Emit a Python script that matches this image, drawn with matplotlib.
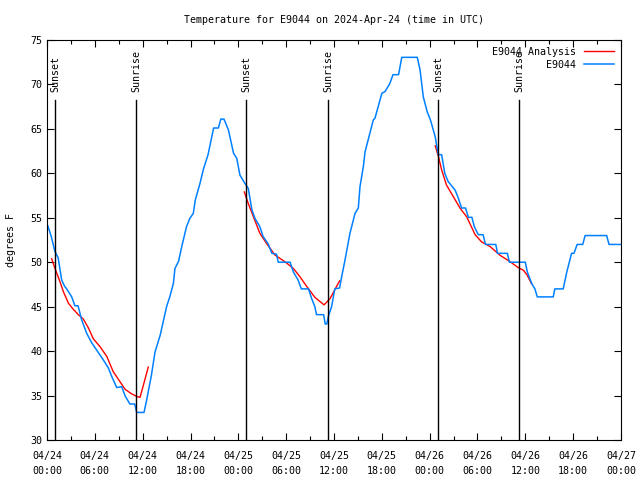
import matplotlib
matplotlib.use("Agg")
import matplotlib.pyplot as plt
from matplotlib.ticker import MultipleLocator

# ---- data (hours since 2024-04-24 00:00 UTC) ----
obs_hours = [0.1, 0.5, 1.0, 1.4, 1.84, 2.2, 2.47, 3.1, 3.5, 3.9, 4.35, 4.98, 5.6, 6.4, 7.07, 7.7,
             8.1, 8.74, 9.37, 9.8, 10.4, 11.0, 11.25, 12.17, 12.5, 13.1, 13.55, 14.2, 15.0, 15.4,
             15.85, 16.05, 16.5, 16.9, 17.5, 17.9, 18.35, 18.6, 19.2, 19.6, 20.2, 20.9, 21.5, 21.8,
             22.2, 22.75, 23.4, 23.8, 24.2, 24.8, 25.25, 25.7, 26.1, 26.7, 27.1, 27.75, 28.2, 28.8,
             29.0, 30.5, 30.9, 31.5, 31.9, 32.8, 33.2, 33.6, 33.8, 34.7, 34.9, 35.1, 35.3, 35.7,
             36.1, 36.7, 36.97, 37.38, 38.0, 38.64, 39.05, 39.26, 39.68, 39.89, 40.5, 40.93, 41.14,
             41.77, 42.0, 42.4, 43.0, 43.4, 44.1, 44.5, 46.45, 46.8, 47.2, 47.7, 48.1, 48.7, 48.9,
             49.1, 49.5, 49.9, 50.3, 51.2, 51.6, 52.0, 52.5, 52.85, 53.3, 53.6, 54.1, 54.7, 55.0,
             56.3, 56.5, 57.75, 58.0, 60.0, 60.25, 60.8, 61.2, 61.5, 63.5, 63.7, 64.75, 65.2, 65.8,
             66.1, 66.5, 67.2, 67.5, 70.2, 70.5, 71.9]
obs_temps = [54.1, 53.0, 51.2, 50.5, 48.0, 47.3, 47.0, 46.1, 45.1, 45.1, 43.5, 42.0, 40.95, 39.9, 39.0, 38.1,
             37.2, 35.9, 36.0, 34.95, 34.05, 34.05, 33.1, 33.1, 34.5, 37.3, 39.9, 41.8, 45.0, 46.1,
             47.6, 49.3, 50.1, 51.75, 54.0, 54.9, 55.5, 57.0, 58.9, 60.4, 62.1, 65.1, 65.1, 66.1,
             66.1, 64.9, 62.25, 61.7, 59.8, 58.9, 58.3, 55.9, 54.9, 54.0, 52.9, 52.05, 51.0, 50.9,
             50.0, 50.0, 48.9, 48.0, 47.0, 47.0, 45.9, 45.0, 44.1, 44.1, 43.05, 43.05, 43.95, 45.0,
             47.0, 47.1, 48.4, 50.25, 53.25, 55.5, 56.1, 58.5, 60.75, 62.4, 64.5, 66.0, 66.2,
             68.25, 69.0, 69.2, 70.1, 71.1, 71.1, 73.05, 73.05, 71.6, 68.6, 66.9, 66.0, 64.1, 63.0,
             62.1, 62.1, 60.0, 59.1, 58.1, 57.2, 56.1, 56.1, 55.05, 55.05, 54.0, 53.1, 53.1, 52.0,
             52.0, 51.0, 51.0, 50.0, 50.0, 48.9, 47.6, 47.0, 46.1, 46.1, 47.0, 47.0, 48.9, 51.0,
             51.0, 52.0, 52.0, 53.0, 53.0, 52.0, 52.0]

ana1_hours = [0.58, 1.0, 1.63, 2.05, 2.68, 3.3, 3.93, 4.56, 5.2, 5.8, 6.65, 7.5, 8.3, 9.16, 9.8, 10.6,
              11.25, 11.67, 12.1, 12.7]
ana1_temps = [50.4, 49.3, 47.8, 46.7, 45.4, 44.7, 44.1, 43.6, 42.6, 41.4, 40.5, 39.4, 37.7, 36.55, 35.7,
              35.2, 34.9, 34.8, 36.2, 38.2]
ana2_hours = [24.75, 25.25, 25.9, 26.7, 27.55, 28.6, 29.85, 30.9, 31.7, 32.6, 33.6, 34.75, 35.5, 36.1, 36.7]
ana2_temps = [57.9, 56.6, 55.1, 53.25, 52.1, 50.8, 50.05, 49.3, 48.4, 47.25, 46.05, 45.2, 45.9, 46.9, 47.9]
ana3_hours = [48.7, 49.1, 49.5, 50.1, 50.95, 51.8, 52.65, 53.7, 54.5, 55.6, 56.8, 58.1, 59.1, 59.75,
              60.2, 60.8]
ana3_temps = [63.1, 61.9, 60.4, 58.7, 57.4, 56.1, 55.1, 53.1, 52.3, 51.75, 50.8, 50.05, 49.4, 49.1,
              48.6, 47.55]

sun_hours = [1.0, 11.2, 25.0, 35.3, 49.05, 59.2]
sun_labels = ["Sunset", "Sunrise", "Sunset", "Sunrise", "Sunset", "Sunrise"]

tick_hours = list(range(0, 73, 6))
tick_labels = ["04/24\n00:00", "04/24\n06:00", "04/24\n12:00", "04/24\n18:00",
               "04/25\n00:00", "04/25\n06:00", "04/25\n12:00", "04/25\n18:00",
               "04/26\n00:00", "04/26\n06:00", "04/26\n12:00", "04/26\n18:00",
               "04/27\n00:00"]

FONT = "DejaVu Sans Mono"
FS = 7.2
plt.rcParams['font.family'] = [FONT]
plt.rcParams['font.size'] = FS

fig = plt.figure(figsize=(6.4, 4.8), dpi=100)
ax = fig.add_axes([47/640, 40/480, 574/640, 400/480])

red = "#ff0000"
blue = "#0080ff"

for i, (h, t) in enumerate([(ana1_hours, ana1_temps), (ana2_hours, ana2_temps), (ana3_hours, ana3_temps)]):
    ax.plot(h, t, color=red, lw=1.0, label="E9044 Analysis" if i == 0 else None)
ax.plot(obs_hours, obs_temps, color=blue, lw=1.1, label="E9044")

for h, lab in zip(sun_hours, sun_labels):
    ax.plot([h, h], [30, 68.25], color="black", lw=1.0)
    ax.text(h, 69.1, lab, rotation=90, ha="center", va="bottom", fontsize=FS)

ax.set_xlim(0, 72)
ax.set_ylim(30, 75)
ax.set_xticks(tick_hours)
ax.set_xticklabels(tick_labels, linespacing=1.6)
ax.xaxis.set_minor_locator(MultipleLocator(3))
ax.yaxis.set_major_locator(MultipleLocator(5))
ax.tick_params(which="both", direction="in", top=True, right=True, labelsize=FS, width=0.8)
ax.tick_params(which="major", length=5)
ax.tick_params(which="minor", length=3)
ax.tick_params(axis="x", pad=8)
for s in ax.spines.values():
    s.set_linewidth(0.8)

ax.set_ylabel("degrees F", fontsize=FS, labelpad=10)
ax.set_title("Temperature for E9044 on 2024-Apr-24 (time in UTC)", fontsize=FS, pad=12)

leg = ax.legend(loc="upper right", frameon=False, markerfirst=False, handlelength=3.0,
                fontsize=FS, borderaxespad=0.3, labelspacing=0.3, handletextpad=0.8)
for t in leg.get_texts():
    t.set_ha("right")

fig.savefig("out.png", dpi=100)
